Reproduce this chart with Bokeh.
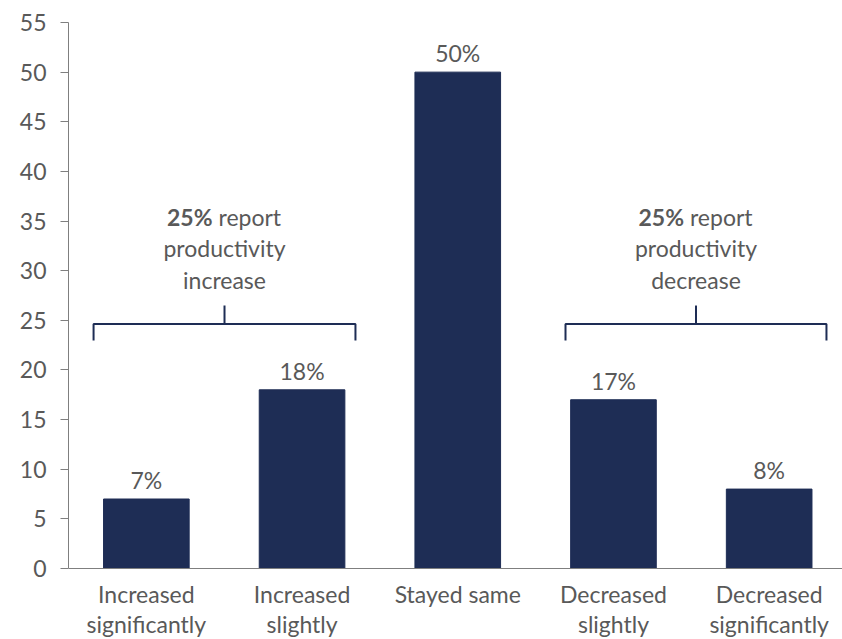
from bokeh.plotting import figure
from bokeh.models import Range1d, FixedTicker, ColumnDataSource, LabelSet, Span
from bokeh.core.properties import value
from bokeh.embed import file_html
from bokeh.resources import INLINE

# Survey responses: change in productivity (% of respondents)
categories = ["Increased\nsignificantly", "Increased\nslightly", "Stayed same",
              "Decreased\nslightly", "Decreased\nsignificantly"]
shares = [7, 18, 50, 17, 8]
y_ticks = [0, 5, 10, 15, 20, 25, 30, 35, 40, 45, 50, 55]
group_totals = [25, 25]
group_words = ["increase", "decrease"]

NAVY = "#1e2d55"
GREY_TEXT = "#595959"
AXIS_GREY = "#7f7f7f"
FONT = "Lato"
FSIZE = "23px"

xs = list(range(len(categories)))

# the frame runs to the bottom edge so the category rows can sit below y=0
p = figure(width=842, height=639, output_backend="svg", toolbar_location=None,
           x_range=Range1d(-0.5, 4.471), y_range=Range1d(-7.152, 55),
           min_border_left=68, min_border_right=0, min_border_top=22,
           min_border_bottom=0)
p.outline_line_color = None
p.xgrid.grid_line_color = None
p.ygrid.grid_line_color = None
p.background_fill_color = "white"
p.border_fill_color = "white"

p.vbar(x=xs, top=shares, width=0.55, color=NAVY)


def add_labels(x, y, text, x_offset=0, y_offset=0, align="center", style="normal"):
    src = ColumnDataSource(dict(x=x, y=y, text=text))
    p.add_layout(LabelSet(x="x", y="y", text="text", source=src,
                          x_offset=x_offset, y_offset=y_offset,
                          text_align=align, text_baseline="alphabetic",
                          text_font=value(FONT), text_font_style=style,
                          text_font_size=FSIZE, text_color=GREY_TEXT))


# value labels above bars
add_labels(xs, shares, [f"{v}%" for v in shares], y_offset=10)

# category labels under the baseline, one row per line
first_lines = [c.split("\n")[0] for c in categories]
second_lines = [c.split("\n")[1] if "\n" in c else "" for c in categories]
add_labels(xs, [0] * len(xs), first_lines, y_offset=-34)
add_labels(xs, [0] * len(xs), second_lines, y_offset=-64)

# y axis, limited to the 0..55 span
p.yaxis.ticker = FixedTicker(ticks=y_ticks)
p.yaxis.bounds = (0, 55)
p.yaxis.axis_line_color = AXIS_GREY
p.yaxis.major_tick_line_color = AXIS_GREY
p.yaxis.major_tick_out = 8
p.yaxis.major_tick_in = 0
p.yaxis.minor_tick_line_color = None
p.yaxis.major_label_standoff = 14
p.yaxis.major_label_text_font = FONT
p.yaxis.major_label_text_font_size = FSIZE
p.yaxis.major_label_text_color = GREY_TEXT

# baseline in place of the category axis
p.xaxis.visible = False
p.add_layout(Span(location=0, dimension="width", line_color=AXIS_GREY, line_width=1))

# brackets grouping the increase / decrease bars
bracket_spans = [(-0.339, 1.343), (2.692, 4.368)]
bracket_low, bracket_high, stem_top = 22.97, 24.63, 26.49
for (x0, x1) in bracket_spans:
    mid = (x0 + x1) / 2
    p.line([x0, x0, x1, x1], [bracket_low, bracket_high, bracket_high, bracket_low],
           line_color=NAVY, line_width=2)
    p.line([mid, mid], [bracket_high, stem_top], line_color=NAVY, line_width=2)

# group annotations
mids = [(x0 + x1) / 2 for x0, x1 in bracket_spans]
add_labels(mids, [34.55] * 2, [f"{t}%" for t in group_totals], x_offset=-12,
           align="right", style="bold")
add_labels(mids, [34.55] * 2, ["report"] * 2, x_offset=-6, align="left")
add_labels(mids, [31.38] * 2, ["productivity"] * 2)
add_labels(mids, [28.2] * 2, group_words)

open("out.html", "w").write(file_html(p, INLINE))
